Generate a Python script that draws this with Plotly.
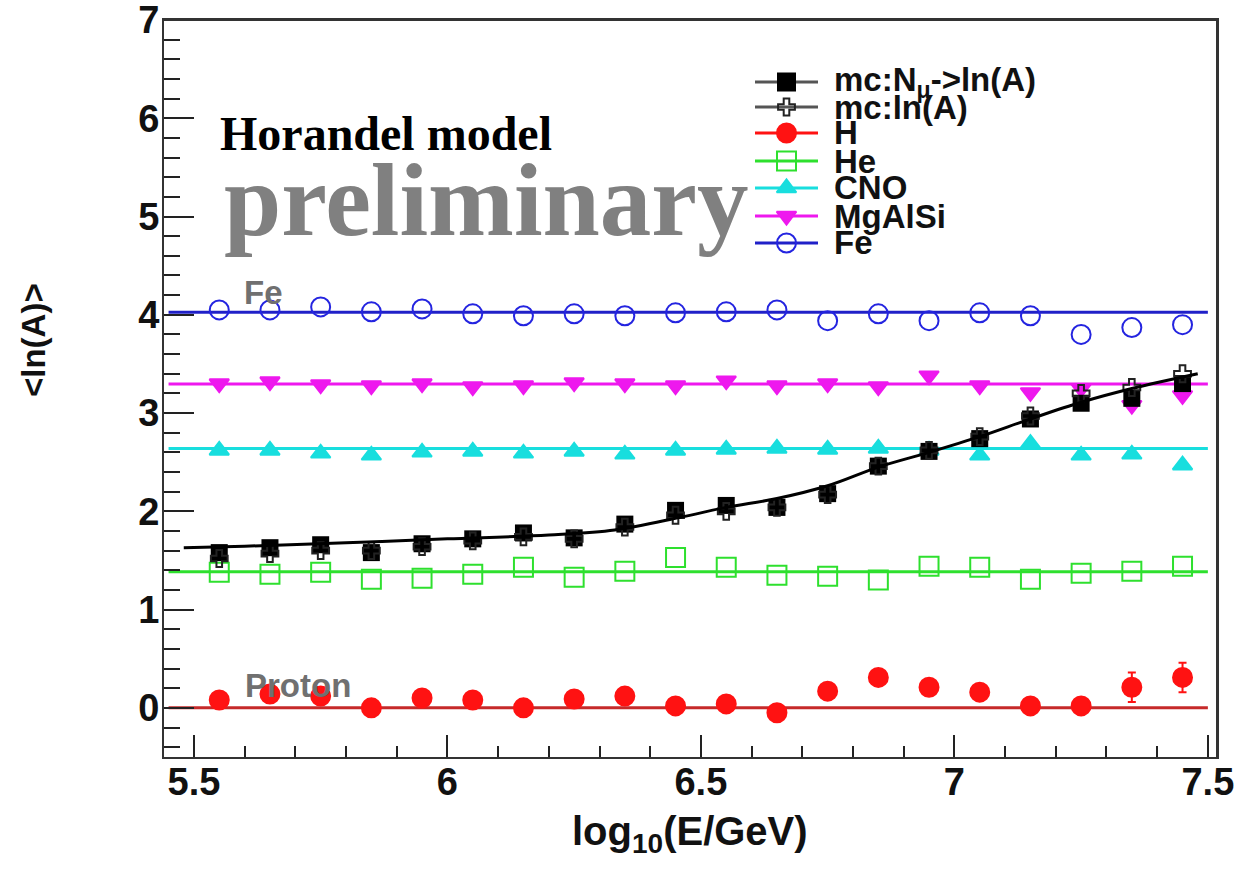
import plotly.graph_objects as go

# ---------------- data ----------------
energy = [5.55, 5.65, 5.75, 5.85, 5.95, 6.05, 6.15, 6.25, 6.35, 6.45,
          6.55, 6.65, 6.75, 6.85, 6.95, 7.05, 7.15, 7.25, 7.35, 7.45]

# reconstructed <ln(A)> from N_mu, and MC truth <ln(A)>
lnA_from_nmu = [1.58, 1.63, 1.66, 1.58, 1.67, 1.72, 1.78, 1.73, 1.87, 2.01,
                2.06, 2.04, 2.18, 2.46, 2.61, 2.74, 2.94, 3.10, 3.15, 3.30]
lnA_true = [1.52, 1.57, 1.60, 1.60, 1.64, 1.70, 1.74, 1.72, 1.84, 1.96,
            2.00, 2.04, 2.17, 2.46, 2.62, 2.76, 2.97, 3.20, 3.26, 3.40]

# single-element samples
lnA_H = [0.08, 0.14, 0.12, 0.00, 0.10, 0.08, 0.00, 0.09, 0.12, 0.02,
         0.04, -0.05, 0.17, 0.31, 0.21, 0.16, 0.02, 0.02, 0.21, 0.31]
err_H = [0.03, 0.03, 0.03, 0.03, 0.03, 0.03, 0.03, 0.03, 0.03, 0.03,
         0.04, 0.04, 0.04, 0.04, 0.05, 0.05, 0.06, 0.08, 0.15, 0.15]
lnA_He = [1.38, 1.36, 1.38, 1.31, 1.32, 1.36, 1.43, 1.33, 1.39, 1.53,
          1.43, 1.35, 1.34, 1.30, 1.44, 1.43, 1.31, 1.37, 1.39, 1.44]
lnA_CNO = [2.62, 2.62, 2.59, 2.57, 2.60, 2.61, 2.59, 2.61, 2.58, 2.62,
           2.63, 2.64, 2.63, 2.64, 2.62, 2.57, 2.69, 2.57, 2.58, 2.47]
lnA_MgAlSi = [3.30, 3.32, 3.29, 3.28, 3.30, 3.27, 3.28, 3.31, 3.30, 3.28,
              3.33, 3.28, 3.30, 3.27, 3.38, 3.28, 3.21, 3.25, 3.08, 3.18]
lnA_Fe = [4.05, 4.05, 4.08, 4.03, 4.06, 4.01, 3.99, 4.01, 3.99, 4.02,
          4.03, 4.05, 3.94, 4.01, 3.94, 4.02, 3.99, 3.80, 3.87, 3.90]

# fitted trend of the N_mu based estimate
fit_energy = [5.48, 5.60, 5.80, 6.00, 6.20, 6.33, 6.46, 6.55, 6.65, 6.75,
              6.85, 6.95, 7.05, 7.15, 7.25, 7.35, 7.48]
fit_lnA = [1.63, 1.645, 1.68, 1.72, 1.76, 1.81, 1.94, 2.04, 2.13, 2.26,
           2.45, 2.60, 2.76, 2.94, 3.11, 3.25, 3.40]

# nominal ln(A) of each element group: H, He, CNO, MgAlSi, Fe
nominal_lnA = [0.0, 1.386, 2.639, 3.296, 4.025]
nominal_span = [5.45, 7.50]

# y tick labels
y_ticks = [0, 1, 2, 3, 4, 5, 6, 7]

# ---------------- styling ----------------
BLACK = "#000000"
RED_M, RED_L = "#ff1212", "#c62a2a"
GREEN = "#2ee02e"
CYAN = "#18dede"
MAGENTA = "#ee18ee"
BLUE_M, BLUE_L = "#2424e0", "#2020c8"
FRAME = "#333333"

W, H = 1239, 870
L, R, T, B = 164, 1217, 20, 757  # frame edges in page pixels


def px(x):
    return (x - L) / (R - L)


def py(y):
    return (B - y) / (B - T)


fig = go.Figure()

line_colors = [RED_L, GREEN, CYAN, MAGENTA, BLUE_L]
for lvl, col in zip(nominal_lnA, line_colors):
    fig.add_trace(go.Scatter(x=nominal_span, y=[lvl, lvl], mode="lines",
                             line=dict(color=col, width=3), showlegend=False,
                             hoverinfo="skip"))

series = [
    (lnA_He, GREEN, "square-open", 19, None),
    (lnA_H, RED_M, "circle", 19, err_H),
    (lnA_CNO, CYAN, "triangle-up", 17, None),
    (lnA_MgAlSi, MAGENTA, "triangle-down", 17, None),
    (lnA_Fe, BLUE_M, "circle-open", 19, None),
]
for vals, col, sym, size, err in series:
    fig.add_trace(go.Scatter(
        x=energy, y=vals, mode="markers",
        marker=dict(symbol=sym, size=size, color=col,
                    line=dict(color=col, width=2)),
        error_y=(dict(type="data", array=err, color=col, thickness=2, width=4)
                 if err is not None else None),
        showlegend=False))

fig.add_trace(go.Scatter(x=energy, y=lnA_from_nmu, mode="markers",
                         marker=dict(symbol="square", size=17, color=BLACK),
                         showlegend=False))
fig.add_trace(go.Scatter(x=energy, y=lnA_true, mode="markers",
                         marker=dict(symbol="cross-open", size=14, color="#222222",
                                     line=dict(color="#222222", width=2)),
                         showlegend=False))
fig.add_trace(go.Scatter(x=fit_energy, y=fit_lnA, mode="lines",
                         line=dict(color=BLACK, width=3, shape="spline"),
                         showlegend=False))

# ---------------- legend (drawn on a pixel-scaled overlay) ----------------
legend_items = [
    ("mc:N<sub>μ</sub>-&gt;ln(A)", "#555555", BLACK, "square", 17),
    ("mc:ln(A)", "#555555", "#222222", "cross-open", 14),
    ("H", RED_M, RED_M, "circle", 19),
    ("He", GREEN, GREEN, "square-open", 19),
    ("CNO", CYAN, CYAN, "triangle-up", 17),
    ("MgAlSi", MAGENTA, MAGENTA, "triangle-down", 17),
    ("Fe", BLUE_L, BLUE_M, "circle-open", 19),
]
legend_rows = [82, 107, 133, 161, 188, 216, 243]
KEY_X0, KEY_X1, TEXT_X = 755, 818, 832
annotations = []
for (label, lcol, mcol, sym, size), row in zip(legend_items, legend_rows):
    fig.add_trace(go.Scatter(x=[KEY_X0, KEY_X1], y=[row, row], mode="lines",
                             line=dict(color=lcol, width=3), xaxis="x2", yaxis="y2",
                             showlegend=False, hoverinfo="skip"))
    fig.add_trace(go.Scatter(x=[(KEY_X0 + KEY_X1) / 2], y=[row], mode="markers",
                             marker=dict(symbol=sym, size=size, color=mcol,
                                         line=dict(color=mcol, width=2)),
                             xaxis="x2", yaxis="y2", showlegend=False,
                             hoverinfo="skip"))
    annotations.append(dict(x=px(TEXT_X), y=py(row), xref="paper", yref="paper",
                            text=label, showarrow=False, xanchor="left",
                            yanchor="middle",
                            font=dict(family="Liberation Sans", size=33,
                                      color="#111111", weight="bold")))

# ---------------- text ----------------
annotations += [
    dict(x=px(218), y=py(134), text="Horandel model", xanchor="left",
         yanchor="middle",
         font=dict(family="Liberation Serif", size=48, color="#000000",
                   weight="bold")),
    dict(x=px(222), y=py(200), text="preliminary", xanchor="left",
         yanchor="middle",
         font=dict(family="Liberation Serif", size=103, color="#808080",
                   weight="bold")),
    dict(x=px(263), y=py(292), text="Fe", xanchor="center", yanchor="middle",
         font=dict(family="Liberation Sans", size=33, color="#707070",
                   weight="bold")),
    dict(x=px(298), y=py(685), text="Proton", xanchor="center",
         yanchor="middle",
         font=dict(family="Liberation Sans", size=33, color="#707070",
                   weight="bold")),
    dict(x=px(690), y=py(834), text="log<sub>10</sub>(E/GeV)",
         xanchor="center", yanchor="middle",
         font=dict(family="Liberation Sans", size=40, color="#111111",
                   weight="bold")),
    dict(x=px(33), y=py(340), text="&lt;ln(A)&gt;", textangle=-90,
         xanchor="center", yanchor="middle",
         font=dict(family="Liberation Sans", size=33, color="#111111",
                   weight="bold")),
]
for a in annotations:
    a.setdefault("xref", "paper")
    a.setdefault("yref", "paper")
    a.setdefault("showarrow", False)

axis_font = dict(family="Liberation Sans", size=38, color="#111111",
                 weight="bold")
fig.update_layout(
    width=W, height=H,
    margin=dict(l=L, r=W - R, t=T, b=H - B, pad=0, autoexpand=False),
    paper_bgcolor="white", plot_bgcolor="white",
    showlegend=False,
    annotations=annotations,
    shapes=[dict(type="line", xref="paper", yref="paper", x0=0, x1=1,
                 y0=1, y1=1, line=dict(color=FRAME, width=2), layer="above"),
            dict(type="line", xref="paper", yref="paper", x0=1, x1=1,
                 y0=0, y1=1, line=dict(color=FRAME, width=2), layer="above")],
    xaxis=dict(range=[5.441, 7.518], tick0=5.5, dtick=0.5, automargin=False,
               ticks="inside", ticklen=22, tickwidth=2, tickcolor="#222222",
               minor=dict(dtick=0.1, ticks="inside", ticklen=11, tickwidth=2,
                          tickcolor="#222222", showgrid=False),
               showgrid=False, zeroline=False, showline=True, linewidth=2,
               linecolor=FRAME, mirror=True, tickfont=axis_font,
               ticklabelstandoff=-10),
    yaxis=dict(range=[-0.5, 7.0], tickmode="array", tickvals=y_ticks,
               ticktext=[str(v) for v in y_ticks], automargin=False,
               ticks="inside", ticklen=30, tickwidth=2, tickcolor="#222222",
               minor=dict(dtick=0.2, ticks="inside", ticklen=16, tickwidth=2,
                          tickcolor="#222222", showgrid=False),
               showgrid=False, zeroline=False, showline=True, linewidth=2,
               linecolor=FRAME, mirror=True, tickfont=axis_font,
               ticklabelstandoff=-5, ticklabeloverflow="allow"),
    xaxis2=dict(overlaying="x", anchor="y2", range=[L, R], visible=False),
    yaxis2=dict(overlaying="y", anchor="x2", range=[B, T], visible=False),
)

fig.write_html("out.html", config={"displayModeBar": False})
